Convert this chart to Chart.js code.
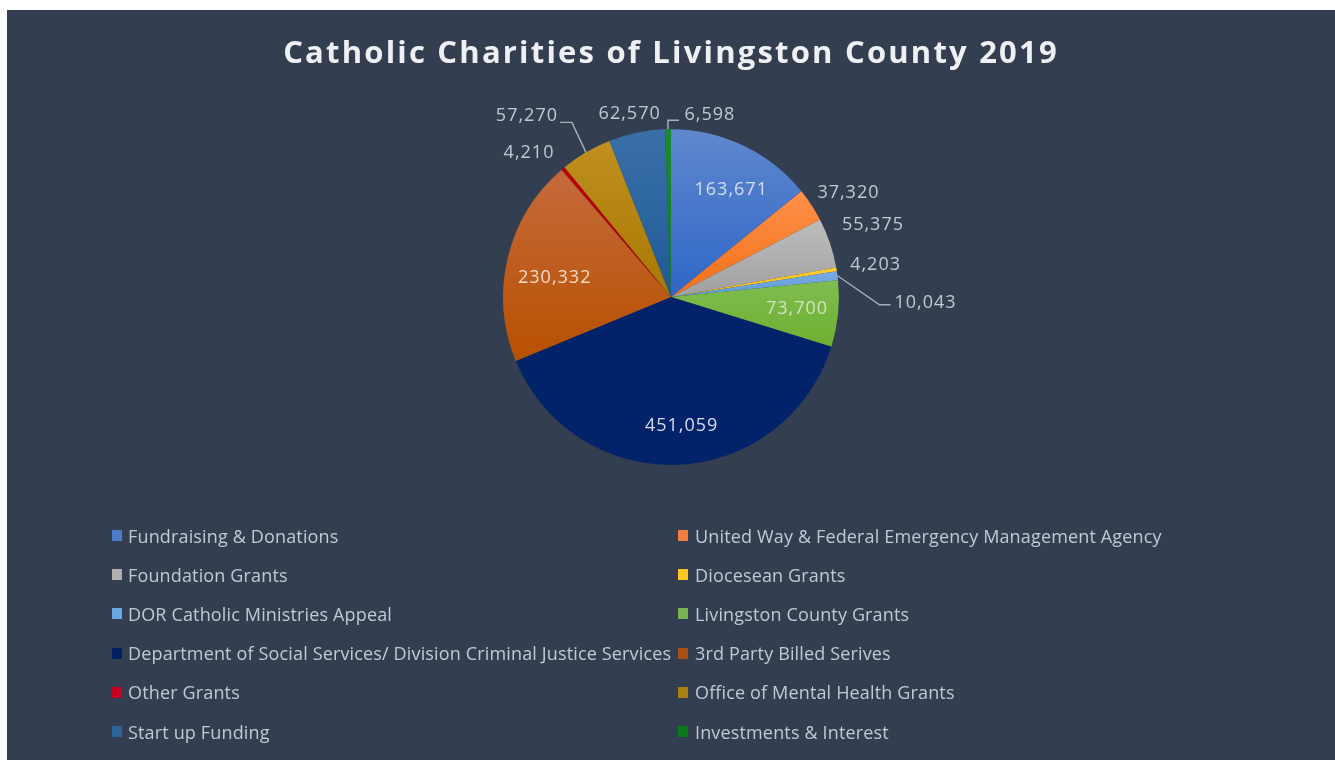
<!DOCTYPE html>
<html>
<head>
<meta charset="utf-8">
<title>Catholic Charities of Livingston County 2019</title>
<script src="https://cdn.jsdelivr.net/npm/chart.js@4"></script>
<style>
    body { margin: 0; background: #fff; }
    #panel { position: absolute; left: 7px; top: 10px; width: 1328px; height: 750px; background: #333f50; overflow: hidden; }
    #panel canvas { position: absolute; left: 0; top: 0; }
    #legend { position: absolute; left: 105px; top: 506px; display: grid; grid-template-columns: 566px 600px; grid-auto-rows: 39.2px; font: 18px "Open Sans", sans-serif; letter-spacing: 0.15px; color: #c3c9d2; }
    #legend div { display: flex; align-items: center; white-space: nowrap; }
    #legend i { width: 10px; height: 11px; margin-right: 6px; flex: none; }
    #legend div:nth-child(even) i { margin-right: 7px; }
</style>
</head>
<body>
<div id="panel">
    <canvas id="chart1" width="1328" height="750"></canvas>
    <div id="legend"></div>
</div>
<script>
const categories = [
    'Fundraising & Donations',
    'United Way & Federal Emergency Management Agency',
    'Foundation Grants',
    'Diocesean Grants',
    'DOR Catholic Ministries Appeal',
    'Livingston County Grants',
    'Department of Social Services/ Division Criminal Justice Services',
    '3rd Party Billed Serives',
    'Other Grants',
    'Office of Mental Health Grants',
    'Start up Funding',
    'Investments & Interest'
];
const funding = [163671, 37320, 55375, 4203, 10043, 73700, 451059, 230332, 4210, 57270, 62570, 6598];

const topColors = ['#6088ce', '#ff9048', '#bdbdbd', '#ffcc33', '#79ace6', '#80bc50', '#02236a', '#c46a3c', '#c00000', '#c09020', '#3a70a8', '#1c8a30'];
const bottomColors = ['#2e66c6', '#f07018', '#a0a0a0', '#ffc000', '#5b9bd5', '#6cb030', '#02236a', '#b85000', '#b00000', '#a87800', '#1f5a96', '#107a28'];
const legendColors = ['#4a7cc8', '#f08040', '#b0b0b0', '#ffc820', '#68a8e0', '#78b450', '#002060', '#a85018', '#c80020', '#a88010', '#2a6498', '#0a7a1a'];

// label offset from the middle of each slice's rim, in px
const labelOffsets = [[-12, 44], [37, -12], [43, -18], [39, -4], [88, 27], [-41, -5], [3, -39], [47, 20], [-34, -16], [-59, -36], [-7, -19], [42, -14]];
const labelColors = ['#d5def0', '#c3c9d2', '#c3c9d2', '#c3c9d2', '#c3c9d2', '#cfe3bf', '#d5def0', '#f5dcc8', '#c3c9d2', '#c3c9d2', '#c3c9d2', '#c3c9d2'];
// elbow points of the leader lines, also from the rim
const leaders = { 4: [[42, 29], [53, 29]], 9: [[-14, -30], [-26, -30]], 11: [[0, -9], [11, -9]] };

const total = funding.reduce((a, b) => a + b, 0);

function sliceAngles(i) {
    const before = funding.slice(0, i).reduce((a, b) => a + b, 0);
    return [before / total * Math.PI * 2, (before + funding[i]) / total * Math.PI * 2];
}

function sliceFill(context) {
    const chart = context.chart;
    const i = context.dataIndex;
    if (!chart.chartArea || i === undefined) return bottomColors[i || 0];
    const area = chart.chartArea;
    const cy = (area.top + area.bottom) / 2;
    const r = area.height / 2;
    const [a, b] = sliceAngles(i);
    let low = 0, high = 0;
    for (let t = 0; t <= 20; t++) {
        const y = -Math.cos(a + (b - a) * t / 20) * r;
        low = Math.min(low, y);
        high = Math.max(high, y);
    }
    const g = chart.ctx.createLinearGradient(0, cy + low, 0, cy + high);
    g.addColorStop(0, topColors[i]);
    g.addColorStop(1, bottomColors[i]);
    return g;
}

const spacedTitle = {
    id: 'spacedTitle',
    beforeDraw(chart) { chart.ctx.letterSpacing = '2.2px'; },
    beforeDatasetsDraw(chart) { chart.ctx.letterSpacing = '0px'; }
};

const sliceLabels = {
    id: 'sliceLabels',
    afterDatasetsDraw(chart) {
        const ctx = chart.ctx;
        const arcs = chart.getDatasetMeta(0).data;
        ctx.save();
        ctx.font = '18px "Open Sans", sans-serif';
        ctx.letterSpacing = '1px';
        ctx.textAlign = 'center';
        ctx.textBaseline = 'middle';
        arcs.forEach((arc, i) => {
            const mid = (arc.startAngle + arc.endAngle) / 2;
            const rimX = arc.x + Math.cos(mid) * arc.outerRadius;
            const rimY = arc.y + Math.sin(mid) * arc.outerRadius;
            if (leaders[i]) {
                ctx.beginPath();
                ctx.moveTo(rimX, rimY);
                leaders[i].forEach(p => ctx.lineTo(rimX + p[0], rimY + p[1]));
                ctx.strokeStyle = '#a9afb8';
                ctx.lineWidth = 1.4;
                ctx.stroke();
            }
            ctx.fillStyle = labelColors[i];
            ctx.fillText(funding[i].toLocaleString('en-US'), rimX + labelOffsets[i][0], rimY + labelOffsets[i][1]);
        });
        ctx.restore();
    }
};

new Chart(document.getElementById('chart1').getContext('2d'), {
    type: 'pie',
    data: {
        labels: categories,
        datasets: [{
            data: funding,
            backgroundColor: sliceFill,
            borderWidth: 0,
            hoverOffset: 0
        }]
    },
    options: {
        responsive: false,
        animation: false,
        layout: { padding: { bottom: 295 } },
        plugins: {
            legend: { display: false },
            tooltip: { enabled: false },
            title: {
                display: true,
                text: 'Catholic Charities of Livingston County 2019',
                color: '#eef0f3',
                font: { family: '"Open Sans", sans-serif', size: 31, weight: 'bold', lineHeight: 1.2 },
                padding: { top: 26, bottom: 56 }
            }
        }
    },
    plugins: [spacedTitle, sliceLabels]
});

const legendBox = document.getElementById('legend');
categories.forEach((name, i) => {
    const row = document.createElement('div');
    const swatch = document.createElement('i');
    swatch.style.background = legendColors[i];
    row.appendChild(swatch);
    row.appendChild(document.createTextNode(name));
    legendBox.appendChild(row);
});
</script>
</body>
</html>
